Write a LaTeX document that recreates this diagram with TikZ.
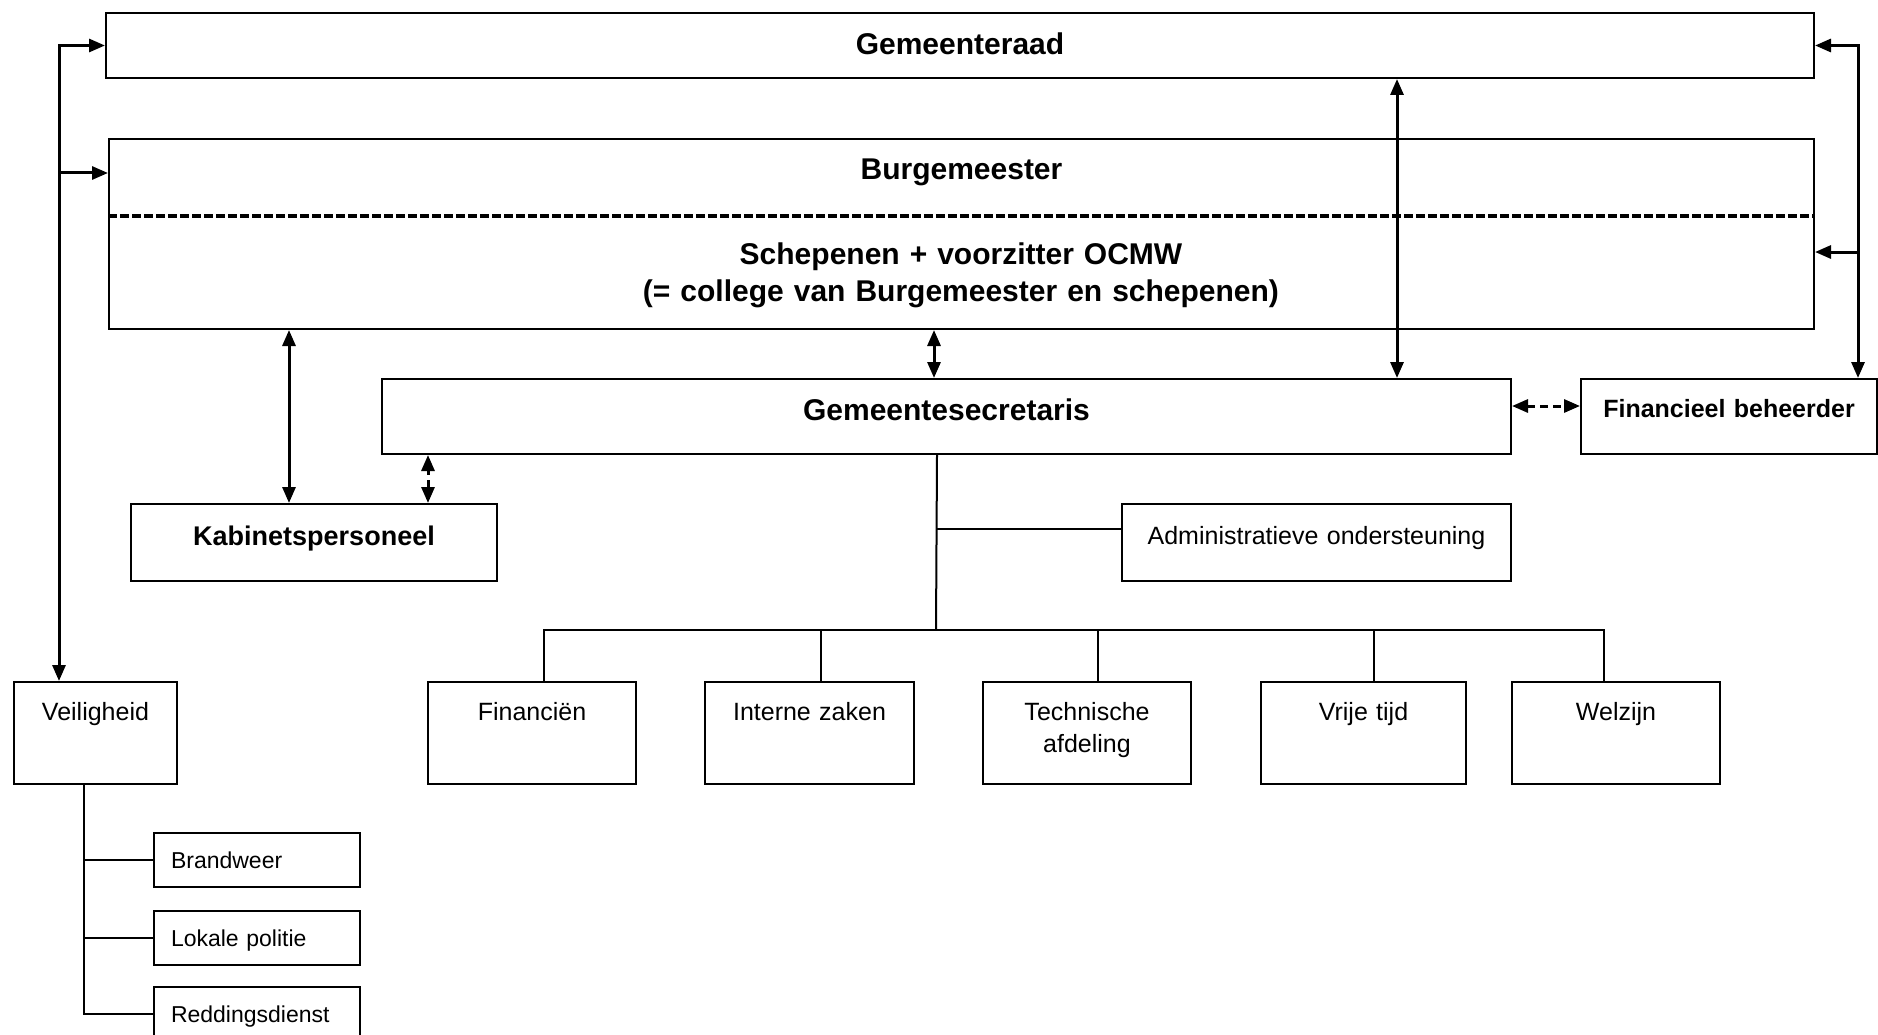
\documentclass[tikz,border=0pt]{standalone}
\usepackage{fontspec}
\setmainfont{Liberation Sans}
\usetikzlibrary{arrows.meta}
\begin{document}
\begin{tikzpicture}
[x=1pt,y=-1pt,
  boxdecorate/.style={draw,line width=2pt,anchor=north west,inner sep=0pt,align=center,text width=#1},%
  headfont/.style={font=\fontsize{30}{37}\selectfont\bfseries},%
  unitfont/.style={font=\fontsize{25}{32}\selectfont},%
  rowbox/.style={boxdecorate=#1,unitfont,text height=38pt,text depth=64pt},%
  subbox/.style={boxdecorate=172pt,font=\fontsize{23}{28}\selectfont,inner xsep=17pt,align=left,text height=35pt,text depth=19pt},%
  arrowdecorate/.style={{Triangle[length=16pt,width=13pt]}-{Triangle[length=16pt,width=13pt]},line width=3pt},%
  arrowto/.style={-{Triangle[length=16pt,width=13pt]},line width=3pt},%
  dashdecorate/.style={arrowdecorate,dash pattern=on 8pt off 5pt},%
  linedecorate/.style={-,line width=2pt}]
\useasboundingbox (0,0) rectangle (1878,1035);
%%% bestuur
% boxes
\node (raad) at (105,12) [boxdecorate=1708pt,headfont,text height=42pt,text depth=23pt] {Gemeenteraad};
\node (burg) at (108,138) [boxdecorate=1705pt,headfont,text height=41pt,text depth=149pt] {Burgemeester};
\node (schep) at (961,243) [headfont,anchor=north,inner sep=0pt,align=center,text width=1200pt,text height=21pt] {Schepenen + voorzitter OCMW\\(= college van Burgemeester en schepenen)};
\draw[line width=4pt,dash pattern=on 9pt off 3pt] ([yshift=18pt]burg.west) -- ([yshift=18pt]burg.east);
\node (secr) at (381,378) [boxdecorate=1129pt,headfont,text height=41pt,text depth=34pt] {Gemeentesecretaris};
\node (finb) at (1580,378) [boxdecorate=296pt,font=\fontsize{25}{30}\selectfont\bfseries,text height=38pt,text depth=37pt] {Financieel beheerder};
\node (kab) at (130,503) [boxdecorate=366pt,font=\fontsize{27}{32}\selectfont\bfseries,text height=41pt,text depth=36pt] {Kabinetspersoneel};
\node (admin) at (1121,503) [boxdecorate=389pt,unitfont,text height=40pt,text depth=37pt] {Administratieve ondersteuning};
%
%%% diensten
% boxes
\node (veil) at (13,681) [rowbox=163pt] {Veiligheid};
\node (fin) at (427,681) [rowbox=208pt] {Financiën};
\node (intz) at (704,681) [rowbox=209pt] {Interne zaken};
\node (tech) at (982,681) [rowbox=208pt] {Technische\\afdeling};
\node (vrij) at (1260,681) [rowbox=205pt] {Vrije tijd};
\node (welz) at (1511,681) [rowbox=208pt] {Welzijn};
\node (brand) at (153,832) [subbox] {Brandweer};
\node (lok) at (153,910) [subbox] {Lokale politie};
\node (redd) at (153,986) [subbox] {Reddingsdienst};
%
%%% arrows
% points
\coordinate (veiltop) at ([xshift=-36.5pt]veil.north);
\coordinate (lspine) at (58,173);
\coordinate (rspine) at (1857,252);
\coordinate (kabup) at ([xshift=-25pt]kab.north);
\coordinate (kabsec) at ([xshift=114pt]kab.north);
\coordinate (secburg) at ([xshift=-12.5pt]secr.north);
\coordinate (secraad) at ([xshift=450.5pt]secr.north);
% lines
\draw[arrowdecorate] (raad.west) -| (veiltop);
\draw[arrowto] (lspine) -- (lspine -| burg.west);
\draw[arrowdecorate] (raad.east) -| ([xshift=129pt]finb.north);
\draw[arrowto] (rspine) -- (rspine -| burg.east);
\draw[arrowdecorate] (kabup) -- (kabup |- burg.south);
\draw[dashdecorate] (kabsec) -- (kabsec |- secr.south);
\draw[arrowdecorate] (secburg) -- (secburg |- burg.south);
\draw[arrowdecorate] (secraad) -- (secraad |- raad.south);
\draw[dashdecorate] ([yshift=10.5pt]secr.east) -- ([yshift=10.5pt]finb.west);
%
%%% tree
% points
\coordinate (bus) at (936,630);
\coordinate (adminjoin) at (936,529);
\coordinate (fintop) at ([xshift=12pt]fin.north);
\coordinate (intztop) at ([xshift=11.5pt]intz.north);
\coordinate (techtop) at ([xshift=11pt]tech.north);
\coordinate (vrijtop) at ([xshift=10pt]vrij.north);
\coordinate (welztop) at ([xshift=-12pt]welz.north);
\coordinate (veilspine) at ([xshift=-11.5pt]veil.south);
% lines
\draw[linedecorate] ([xshift=-9.5pt]secr.south) -- (bus);
\draw[linedecorate] (adminjoin) -- (adminjoin -| admin.west);
\draw[linedecorate] (fintop) |- (bus) -| (welztop);
\draw[linedecorate] (bus -| intztop) -- (intztop);
\draw[linedecorate] (bus -| techtop) -- (techtop);
\draw[linedecorate] (bus -| vrijtop) -- (vrijtop);
\draw[linedecorate] (veilspine) |- (redd.west);
\draw[linedecorate] (veilspine |- brand.west) -- (brand.west);
\draw[linedecorate] (veilspine |- lok.west) -- (lok.west);
\end{tikzpicture}
\end{document}
